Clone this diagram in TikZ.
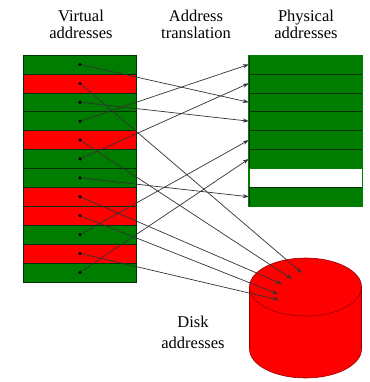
\documentclass[tikz,border=0pt]{standalone}
\usepackage{fontspec}
\setmainfont{Liberation Serif}
\usetikzlibrary{arrows.meta}
\definecolor{vgreen}{RGB}{0,125,0}
\definecolor{vred}{RGB}{255,0,0}
\definecolor{rowedge}{RGB}{0,50,0}
\definecolor{diskedge}{RGB}{150,0,0}
\begin{document}
\begin{tikzpicture}[x=1pt,y=-1pt,
  rowbox/.style={rectangle, minimum width=113.4pt, minimum height=18.9pt, inner sep=0pt, outer sep=0pt, draw=rowedge, line width=0.5pt},
  rowG/.style={rowbox, fill=vgreen},
  rowR/.style={rowbox, fill=vred},
  rowW/.style={rowbox, fill=white, draw=vgreen},
  vdot/.style={circle, fill=black, inner sep=0pt, minimum size=3.6pt},
  maparrow/.style={draw=black!80, line width=0.7pt, -{Stealth[length=6pt,width=4pt]}},
  lbl/.style={font=\fontsize{16.5}{16.5}\selectfont, align=center, anchor=north, inner sep=0pt}]
\useasboundingbox (0,0) rectangle (369,382);
% labels
\node[lbl] (t1) at (81,10) {Virtual\\addresses};
\node[lbl] (t2) at (196,10) {Address\\translation};
\node[lbl] (t3) at (306,10) {Physical\\addresses};
\node[lbl, font=\fontsize{16.5}{21}\selectfont] (t4) at (193,316) {Disk\\addresses};
% virtual rows
\foreach \c [count=\i from 0] in {rowG,rowR,rowG,rowG,rowR,rowG,rowG,rowR,rowR,rowG,rowR,rowG}
  \node[\c] (v\i) at (80,{55+18.9*(\i+0.5)}) {};
% physical rows
\foreach \c [count=\i from 0] in {rowG,rowG,rowG,rowG,rowG,rowG,rowW,rowG}
  \node[\c] (p\i) at (305.5,{55+18.9*(\i+0.5)}) {};
\draw[vgreen, line width=0.8pt] (p0.north west) rectangle (p7.south east);
% disk
\fill[vred] (249.5,287) -- (249.5,349) arc[start angle=180,end angle=360,x radius=56pt,y radius=29pt] -- (361.5,287) arc[start angle=0,end angle=180,x radius=56pt,y radius=29pt] -- cycle;
\draw[diskedge, line width=0.6pt] (249.5,287) -- (249.5,349) arc[start angle=180,end angle=360,x radius=56pt,y radius=29pt] -- (361.5,287);
\draw[diskedge, line width=0.6pt] (305.5,287) ellipse[x radius=56pt,y radius=29pt];
\coordinate (d0) at (302,273);
\coordinate (d1) at (292,279);
\coordinate (d2) at (282,284);
\coordinate (d3) at (278,294);
\coordinate (d4) at (279,300);
% dots
\foreach \i in {0,...,11} \node[vdot] (vd\i) at (v\i.center) {};
% mappings to physical memory
\draw[maparrow] (vd0) -- (p2.west);
\draw[maparrow] (vd2) -- (p3.west);
\draw[maparrow] (vd3) -- (p0.west);
\draw[maparrow] (vd5) -- (p1.west);
\draw[maparrow] (vd6) -- (p7.west);
\draw[maparrow] (vd9) -- (p4.west);
\draw[maparrow] (vd11) -- (p5.west);
% mappings to disk
\draw[maparrow] (vd1) -- (d0);
\draw[maparrow] (vd4) -- (d1);
\draw[maparrow] (vd7) -- (d2);
\draw[maparrow] (vd8) -- (d3);
\draw[maparrow] (vd10) -- (d4);
\end{tikzpicture}
\end{document}
